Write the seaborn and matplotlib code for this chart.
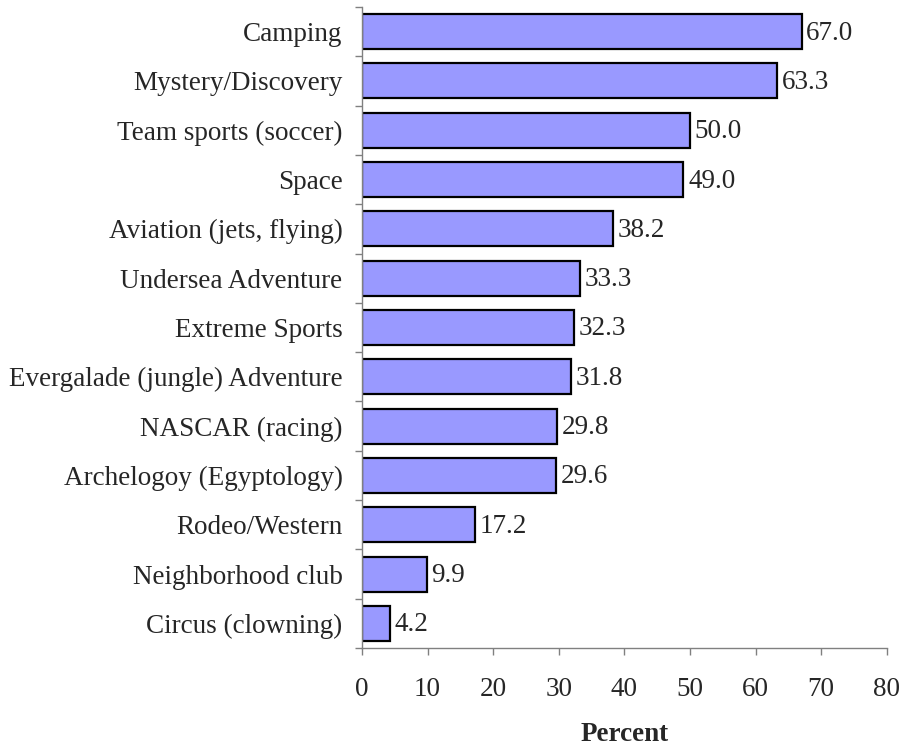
import pandas as pd
import matplotlib.pyplot as plt
import seaborn as sns
from matplotlib.ticker import FixedLocator

activities = [
    "Camping", "Mystery/Discovery", "Team sports (soccer)", "Space",
    "Aviation (jets, flying)", "Undersea Adventure", "Extreme Sports",
    "Evergalade (jungle) Adventure", "NASCAR (racing)",
    "Archelogoy (Egyptology)", "Rodeo/Western", "Neighborhood club",
    "Circus (clowning)",
]
percent = [67.0, 63.3, 50.0, 49.0, 38.2, 33.3, 32.3, 31.8, 29.8, 29.6, 17.2, 9.9, 4.2]
x_ticks = [0, 10, 20, 30, 40, 50, 60, 70, 80]

df = pd.DataFrame({"activity": activities, "percent": percent})

sns.set_style("white")
plt.rcParams["font.family"] = ["Liberation Serif", "DejaVu Serif"]
fs = 19.5

fig = plt.figure(figsize=(9.04, 7.49), dpi=100)
ax = fig.add_axes([0.4004, 0.1348, 0.5806, 0.8559])

sns.barplot(data=df, y="activity", x="percent", orient="h", color="#9999FF",
            saturation=1, width=0.71, edgecolor="black", linewidth=1.6, ax=ax)

# value labels right of each bar
for i, v in enumerate(percent):
    ax.text(v + 0.7, i + 0.03, f"{v:.1f}", va="center", ha="left", fontsize=fs)

n = len(activities)
ax.set_xlim(0, 80)
ax.set_ylim(n - 0.5, -0.5)
ax.set_xticks(x_ticks)
ax.set_xticklabels([str(t) for t in x_ticks], fontsize=fs)
ax.set_yticks(range(n))
ax.set_yticklabels(activities, fontsize=fs)
ax.yaxis.set_minor_locator(FixedLocator([i - 0.5 for i in range(n + 1)]))

ax.tick_params(axis="y", which="major", length=0, pad=14)
ax.tick_params(axis="y", which="minor", length=5, width=1, color="#808080", direction="out", left=True)
ax.tick_params(axis="x", which="major", length=5, width=1, color="#808080", direction="out", bottom=True, pad=16)

for side in ["top", "right"]:
    ax.spines[side].set_visible(False)
for side in ["left", "bottom"]:
    ax.spines[side].set_color("#808080")
    ax.spines[side].set_linewidth(1)

ax.set_ylabel("")
ax.set_xlabel("Percent", fontsize=fs, fontweight="bold", labelpad=14)

fig.savefig("out.png", dpi=100)
